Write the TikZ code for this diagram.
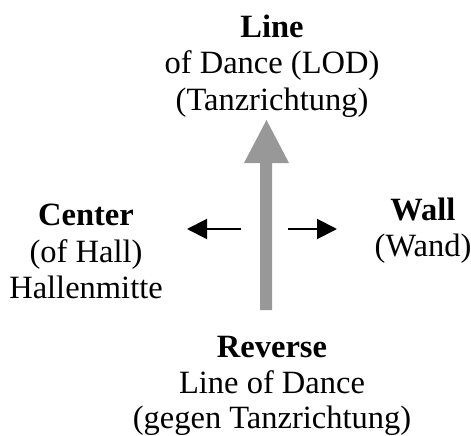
\documentclass[tikz,border=0pt]{standalone}
\usepackage{fontspec}
\setmainfont{Liberation Serif}
\usetikzlibrary{arrows.meta}
\definecolor{arrowgray}{RGB}{152,152,152}
\tikzset{
  lbl/.style={anchor=base, inner sep=0pt, font=\fontsize{32.5}{37}\selectfont},
  blbl/.style={lbl, font=\fontsize{32.5}{37}\selectfont\bfseries},
  sidearrow/.style={line width=2pt, -{Triangle[length=20pt,width=20pt]}}
}
\begin{document}
\begin{tikzpicture}[x=1pt,y=-1pt]
\useasboundingbox (0,0) rectangle (471,436);
% big arrow
\fill[arrowgray] (260,310) -- (260,163) -- (244,163) -- (266.5,120) -- (289,163) -- (272,163) -- (272,310) -- cycle;
% side arrows
\coordinate (lt) at (241,229);
\coordinate (lh) at (187,229);
\coordinate (rt) at (288,229);
\coordinate (rh) at (337,229);
\draw[sidearrow] (lt) -- (lh);
\draw[sidearrow] (rt) -- (rh);
% top
\node[blbl] (t1) at (272,38) {Line};
\node[lbl] (t2) at (272,74) {of Dance (LOD)};
\node[lbl] (t3) at (272,110) {(Tanzrichtung)};
% left
\node[blbl] (c1) at (86,225) {Center};
\node[lbl] (c2) at (86,262) {(of Hall)};
\node[lbl] (c3) at (86,298) {Hallenmitte};
% right
\node[blbl] (w1) at (423,220) {Wall};
\node[lbl] (w2) at (423,256) {(Wand)};
% bottom
\node[blbl] (b1) at (272,357) {Reverse};
\node[lbl] (b2) at (272,393) {Line of Dance};
\node[lbl] (b3) at (272,428) {(gegen Tanzrichtung)};
\end{tikzpicture}
\end{document}
